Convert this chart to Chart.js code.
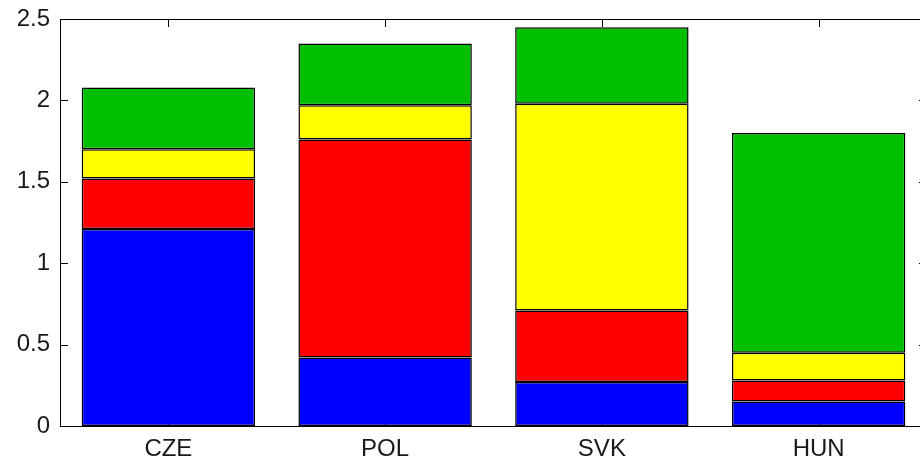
<!DOCTYPE html>
<html>
<head>
<meta charset="utf-8">
<script src="https://cdn.jsdelivr.net/npm/chart.js@4"></script>
<style>
  html, body { margin: 0; padding: 0; background: #fff; overflow: hidden; }
  #wrap { width: 940px; height: 463px; position: relative; }
</style>
</head>
<body>
<div id="wrap"><canvas id="chart1"></canvas></div>
<script>
// values (stacked segments)
const countries = ['CZE', 'POL', 'SVK', 'HUN'];
const blueVals = [1.21, 0.42, 0.27, 0.15];
const redVals = [0.31, 1.34, 0.44, 0.13];
const yellowVals = [0.18, 0.21, 1.27, 0.17];
const greenVals = [0.38, 0.38, 0.47, 1.35];
const yTicks = [0, 0.5, 1, 1.5, 2, 2.5];

const segColors = ['#0000ff', '#ff0000', '#ffff00', '#00bf00'];
const series = [blueVals, redVals, yellowVals, greenVals];

// matlab style box with inward ticks, drawn behind the bars
const boxTicks = {
    id: 'boxTicks',
    beforeDatasetsDraw(chart) {
        const ctx = chart.ctx;
        const a = chart.chartArea;
        const xs = chart.scales.x;
        const ys = chart.scales.y;
        const len = 8;
        ctx.save();
        ctx.strokeStyle = '#000';
        ctx.lineWidth = 1;
        ctx.beginPath();
        yTicks.forEach(function(v) {
            const py = Math.round(ys.getPixelForValue(v)) + 0.5;
            ctx.moveTo(a.left, py); ctx.lineTo(a.left + len, py);
            ctx.moveTo(a.right, py); ctx.lineTo(a.right - len, py);
        });
        countries.forEach(function(c, i) {
            const px = Math.round(xs.getPixelForValue(i)) + 0.5;
            ctx.moveTo(px, a.top); ctx.lineTo(px, a.top + len);
            ctx.moveTo(px, a.bottom); ctx.lineTo(px, a.bottom - len);
        });
        ctx.stroke();
        ctx.strokeRect(Math.round(a.left) + 0.5, Math.round(a.top) + 0.5,
            Math.round(a.right - a.left), Math.round(a.bottom - a.top));
        ctx.restore();
    }
};

new Chart(document.getElementById('chart1'), {
    type: 'bar',
    data: {
        labels: countries,
        datasets: series.map(function(vals, i) {
            return {
                data: vals,
                backgroundColor: segColors[i],
                borderColor: '#000',
                borderWidth: 1.5,
                borderSkipped: false,
                barPercentage: 0.8,
                categoryPercentage: 1.0
            };
        })
    },
    options: {
        responsive: true,
        maintainAspectRatio: false,
        animation: false,
        layout: {
            padding: { top: 19, right: 13, bottom: 0, left: 0 }
        },
        plugins: {
            legend: { display: false },
            tooltip: { enabled: false }
        },
        scales: {
            x: {
                stacked: true,
                grid: { display: false, drawTicks: false },
                border: { display: false },
                ticks: {
                    color: '#1a1a1a',
                    padding: 9,
                    font: { family: 'Liberation Sans', size: 24 }
                },
                afterFit: function(s) {
                    s.height = 37;
                    s.paddingLeft = 0;
                    s.paddingRight = 0;
                }
            },
            y: {
                stacked: true,
                min: 0,
                max: 2.5,
                grid: { display: false, drawTicks: false },
                border: { display: false },
                ticks: {
                    stepSize: 0.5,
                    color: '#1a1a1a',
                    padding: 10,
                    font: { family: 'Liberation Sans', size: 24 },
                    callback: function(v) { return String(v); }
                },
                afterFit: function(s) {
                    s.width = 60;
                    s.paddingTop = 0;
                    s.paddingBottom = 0;
                }
            }
        }
    },
    plugins: [boxTicks]
});
</script>
</body>
</html>
